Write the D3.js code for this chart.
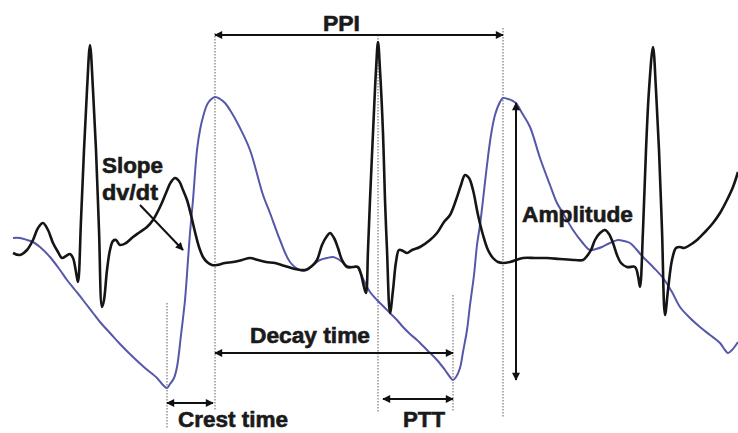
<!DOCTYPE html>
<html>
<head>
<meta charset="utf-8">
<script src="https://cdn.jsdelivr.net/npm/d3@7"></script>
<style>
  html, body { margin: 0; padding: 0; background: #fff; }
  #container { width: 738px; height: 433px; }
  text { font-family: "Liberation Sans", Arial, sans-serif; font-weight: bold; fill: #1a1a1a; stroke: #1a1a1a; stroke-width: 0.6px; }
</style>
</head>
<body>
<div id="container"></div>
<script>
/**
 * CONSTANTS
 * time runs in sample units, amplitude is relative to the ECG baseline (0)
 * */
const width = 738,
  height = 433;

// ECG trace [time, amplitude]
const ecg = [
  [13, 7], [20, 5], [27, 10], [33, 20], [38, 32], [43, 37], [48, 30], [53, 17], [58, 8], [62, 2],
  [66, 4], [70, 6], [73, 2], [76, -12], [78, -22], [81, 40], [84, 110], [87, 170], [90, 215], [93, 170],
  [96, 110], [99, 30], [102, -47], [104, -40], [107, -10], [110, 10], [113, 19], [116, 20], [120, 15], [126, 17],
  [133, 23], [140, 28], [147, 33], [153, 40], [160, 53], [166, 67], [171, 78], [175, 82], [179, 79], [183, 70],
  [187, 60], [191, 45], [195, 28], [199, 13], [203, 3], [207, -2], [212, -5], [217, -5], [225, -3], [233, -2],
  [242, 0], [250, 2], [258, 0], [266, -2], [275, -3], [285, -6], [295, -9], [305, -10], [312, -6], [317, 0],
  [322, 15], [327, 24], [330, 27], [334, 22], [338, 12], [342, 0], [347, -7], [353, -7], [358, -7], [361, -14],
  [364, -27], [366, -33], [368, 10], [370, 60], [373, 127], [376, 190], [378, 218], [380, 190], [383, 127], [385, 60],
  [387, 10], [390, -53], [393, -30], [396, -2], [399, 10], [403, 9], [407, 7], [412, 10], [420, 13], [430, 20],
  [437, 27], [444, 38], [450, 45], [456, 60], [461, 75], [465, 85], [469, 82], [473, 70], [478, 45], [483, 25],
  [488, 10], [493, 2], [498, -2], [503, -3], [510, -2], [523, 2], [535, 2], [547, 2], [560, 1], [575, 0],
  [583, 0], [587, 4], [591, 10], [595, 20], [600, 27], [605, 30], [609, 26], [613, 17], [617, 5], [621, -3],
  [627, -7], [635, -7], [638, -16], [640, -27], [643, 30], [646, 110], [649, 170], [653, 213], [656, 170], [659, 110],
  [662, 30], [665, -55], [668, -30], [672, 0], [676, 12], [680, 13], [684, 12], [690, 15], [697, 20], [705, 28],
  [713, 37], [720, 47], [727, 60], [733, 73], [738, 88]
];

// PPG trace [time, amplitude]
const ppg = [
  [13, 22], [20, 22], [27, 20], [33, 18], [40, 13], [50, 3], [60, -10], [67, -20], [75, -30], [83, -40],
  [93, -53], [100, -62], [110, -73], [120, -84], [133, -97], [145, -108], [157, -118], [163, -125], [167, -128], [170, -124],
  [174, -118], [177, -107], [181, -75], [185, -40], [188, 0], [190, 27], [193, 60], [197, 110], [200, 130], [203, 143],
  [208, 157], [215, 163], [220, 161], [225, 157], [230, 150], [240, 132], [250, 110], [263, 65], [270, 47], [280, 20],
  [290, -2], [300, -10], [307, -10], [313, -5], [320, 0], [327, 2], [333, 3], [338, 1], [342, -2], [347, -6],
  [352, -7], [357, -7], [360, -12], [365, -23], [370, -32], [377, -40], [385, -48], [390, -53], [397, -60], [403, -67],
  [410, -74], [417, -80], [427, -90], [437, -100], [445, -110], [450, -117], [453, -120], [456, -117], [460, -108], [463, -92],
  [467, -70], [470, -45], [474, -15], [477, 15], [480, 35], [483, 60], [487, 95], [491, 125], [495, 145], [500, 158],
  [503, 162], [508, 161], [513, 159], [516, 157], [522, 147], [530, 133], [540, 102], [550, 75], [557, 57], [563, 47],
  [573, 30], [582, 18], [590, 10], [596, 11], [602, 13], [610, 17], [618, 20], [624, 19], [630, 17], [636, 11],
  [643, 3], [653, -7], [663, -18], [672, -32], [680, -47], [690, -58], [700, -67], [710, -75], [720, -83], [725, -90],
  [728, -93], [732, -90], [738, -82]
];

// dotted markers [time, top amplitude, bottom amplitude]
const guides = [
  [167, -43, -168],
  [215, 227, -150],
  [378, 225, -152],
  [453, -35, -152],
  [503, 232, -158]
];

// interval arrows [t1, a1, t2, a2, double headed]
const arrows = [
  [215, 225, 503, 225, true],   // PPI
  [516, 157, 516, -120, true],  // Amplitude
  [215, -93, 453, -93, true],   // Decay time
  [167, -143, 213, -143, true], // Crest time
  [383, -139, 453, -139, true], // PTT
  [140, 55, 183, 10, false]     // Slope
];

// labels [text, time, baseline amplitude, text length]
const labels = [
  ["PPI", 323, 229, 37],
  ["Slope", 102, 87, 61],
  ["dv/dt", 102, 60, 56],
  ["Amplitude", 522, 38, 111],
  ["Decay time", 250, -83, 120],
  ["Crest time", 178, -167, 110],
  ["PTT", 403, -167, 42]
];

const x = d3.scaleLinear().domain([0, 738]).range([0, width]);
const y = d3.scaleLinear().domain([-173, 260]).range([height, 0]);

const svg = d3
  .select("#container")
  .append("svg")
  .attr("width", width)
  .attr("height", height);

// arrow head
svg
  .append("defs")
  .append("marker")
  .attr("id", "head")
  .attr("viewBox", "0 0 10 10")
  .attr("refX", 9)
  .attr("refY", 5)
  .attr("markerWidth", 11)
  .attr("markerHeight", 8)
  .attr("markerUnits", "userSpaceOnUse")
  .attr("orient", "auto-start-reverse")
  .append("path")
  .attr("d", "M0,0 L10,5 L0,10 Z")
  .attr("fill", "#111");

// dotted guides
svg
  .selectAll(".guide")
  .data(guides)
  .join("line")
  .attr("class", "guide")
  .attr("x1", (d) => x(d[0]))
  .attr("x2", (d) => x(d[0]))
  .attr("y1", (d) => y(d[1]))
  .attr("y2", (d) => y(d[2]))
  .attr("stroke", "#7a7a7a")
  .attr("stroke-width", 1.2)
  .attr("stroke-dasharray", "1.5,1.5");

const line = d3
  .line()
  .x((d) => x(d[0]))
  .y((d) => y(d[1]))
  .curve(d3.curveCatmullRom.alpha(0.5));

svg
  .append("path")
  .datum(ppg)
  .attr("d", line)
  .attr("fill", "none")
  .attr("stroke", "#5558a8")
  .attr("stroke-width", 2);

svg
  .append("path")
  .datum(ecg)
  .attr("d", line)
  .attr("fill", "none")
  .attr("stroke", "#151515")
  .attr("stroke-width", 2.6)
  .attr("stroke-linejoin", "round");

svg
  .selectAll(".arrow")
  .data(arrows)
  .join("line")
  .attr("class", "arrow")
  .attr("x1", (d) => x(d[0]))
  .attr("y1", (d) => y(d[1]))
  .attr("x2", (d) => x(d[2]))
  .attr("y2", (d) => y(d[3]))
  .attr("stroke", "#111")
  .attr("stroke-width", 2)
  .attr("marker-end", "url(#head)")
  .attr("marker-start", (d) => (d[4] ? "url(#head)" : null));

svg
  .selectAll(".label")
  .data(labels)
  .join("text")
  .attr("class", "label")
  .attr("x", (d) => x(d[1]))
  .attr("y", (d) => y(d[2]))
  .attr("font-size", 22)
  .attr("textLength", (d) => d[3])
  .attr("lengthAdjust", "spacingAndGlyphs")
  .text((d) => d[0]);
</script>
</body>
</html>
